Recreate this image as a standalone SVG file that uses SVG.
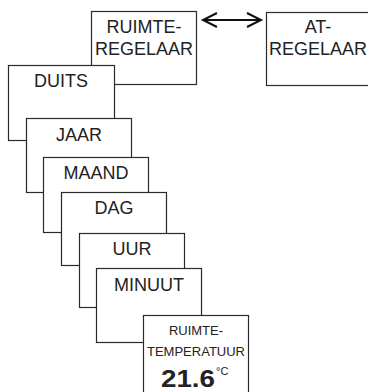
<svg xmlns="http://www.w3.org/2000/svg" width="368" height="392" viewBox="0 0 368 392">
<style>
.box{fill:#fff;stroke:#2a2a2a;stroke-width:1.2}
.t{font-family:"Liberation Sans",Arial,sans-serif;font-size:18px;fill:#222;text-anchor:middle}
.s{font-family:"Liberation Sans",Arial,sans-serif;font-size:13px;fill:#222;text-anchor:middle}
.b{font-family:"Liberation Sans",Arial,sans-serif;font-size:24px;font-weight:bold;fill:#222}
.sup{font-family:"Liberation Sans",Arial,sans-serif;font-size:11px;fill:#222}
.conn{fill:none;stroke:#111;stroke-width:2}
</style>
<rect width="368" height="392" fill="#fff"/>
<g id="ruimteregelaar">
<rect class="box" x="91.5" y="11.5" width="105" height="73"/>
<text class="t" x="144" y="33">RUIMTE-</text>
<text class="t" x="144" y="55">REGELAAR</text>
</g>
<g id="atregelaar">
<rect class="box" x="266.5" y="12.5" width="106" height="73"/>
<text class="t" x="318" y="33">AT-</text>
<text class="t" x="318" y="55">REGELAAR</text>
</g>
<g id="connectors">
<line class="conn" x1="203" y1="20" x2="261" y2="20"/>
<polyline class="conn" points="217,13 203,20 217,27"/>
<polyline class="conn" points="247,13 261,20 247,27"/>
</g>
<g id="duits">
<rect class="box" x="8.5" y="65.5" width="106" height="75"/>
<text class="t" x="61" y="87">DUITS</text>
</g>
<g id="jaar">
<rect class="box" x="26.5" y="118.5" width="105" height="74"/>
<text class="t" x="79" y="141">JAAR</text>
</g>
<g id="maand">
<rect class="box" x="43.5" y="157.5" width="105" height="75"/>
<text class="t" x="96" y="179">MAAND</text>
</g>
<g id="dag">
<rect class="box" x="61.5" y="192.5" width="105" height="73"/>
<text class="t" x="114" y="214">DAG</text>
</g>
<g id="uur">
<rect class="box" x="79.5" y="233.5" width="105" height="74"/>
<text class="t" x="132" y="255">UUR</text>
</g>
<g id="minuut">
<rect class="box" x="96.5" y="268.5" width="105" height="74"/>
<text class="t" x="149" y="291">MINUUT</text>
</g>
<g id="ruimtetemperatuur">
<rect class="box" x="143.5" y="315.5" width="105" height="85"/>
<text class="s" x="196" y="335">RUIMTE-</text>
<text class="s" x="196" y="356">TEMPERATUUR</text>
<text class="b" x="161" y="387" textLength="54" lengthAdjust="spacingAndGlyphs">21.6</text>
<text class="sup" x="216" y="375">°C</text>
</g>
</svg>
